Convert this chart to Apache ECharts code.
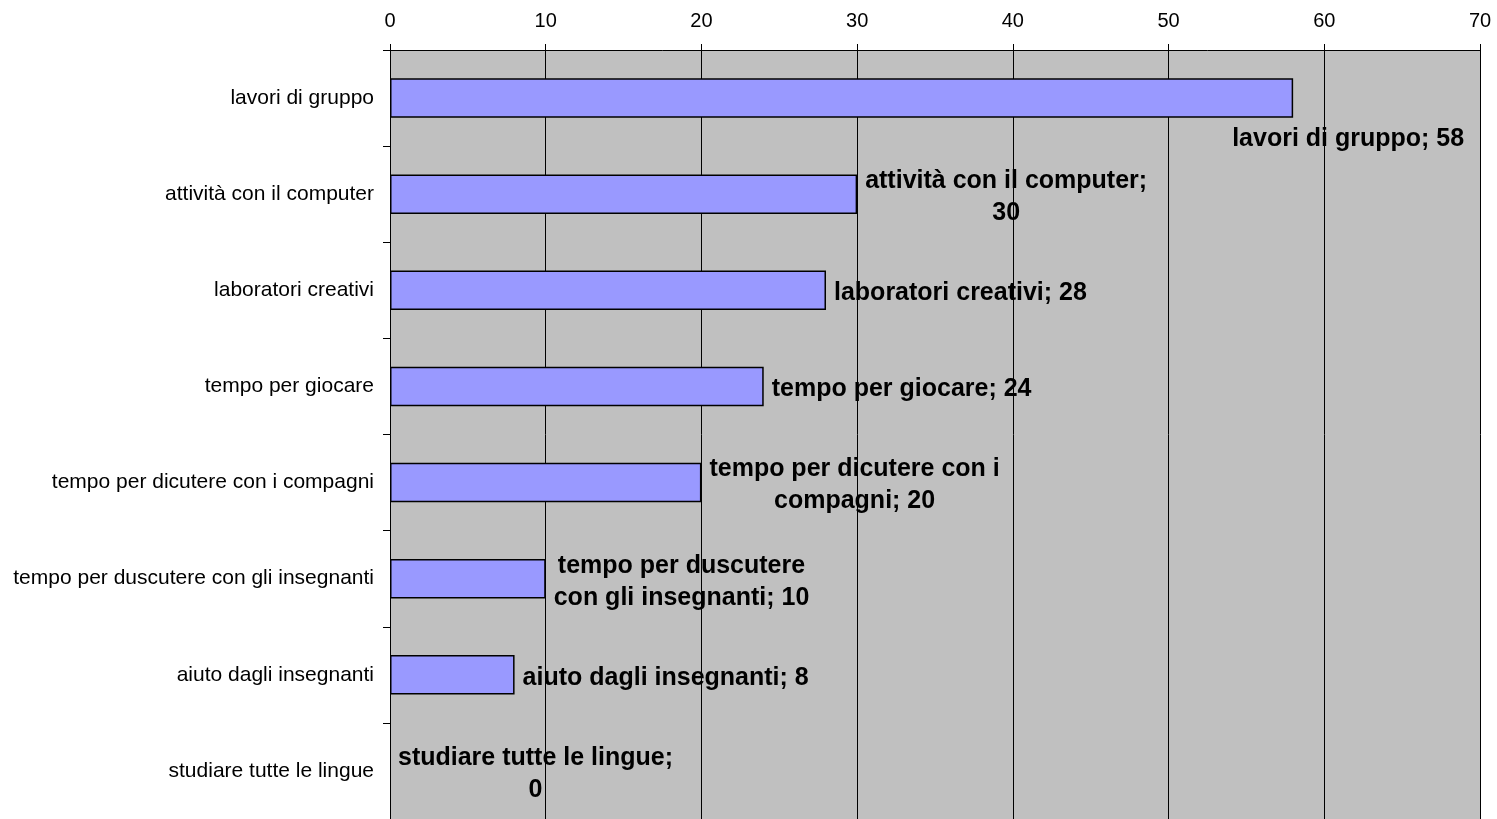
<!DOCTYPE html>
<html><head><meta charset="utf-8">
<script src="https://cdn.jsdelivr.net/npm/echarts@6/dist/echarts.min.js"></script>
<style>html,body{margin:0;padding:0;background:#fff}#c{width:1497px;height:819px}</style>
</head><body><div id="c"></div>
<script>
var categories = ['lavori di gruppo','attività con il computer','laboratori creativi','tempo per giocare','tempo per dicutere con i compagni','tempo per duscutere con gli insegnanti','aiuto dagli insegnanti','studiare tutte le lingue'];
var values = [58,30,28,24,20,10,8,0];
var xTicks = [0,10,20,30,40,50,60,70];
// label text line breaks (text formatting only)
var labelBreaks = {
  'attività con il computer': ['attività con il computer;', null],
  'tempo per dicutere con i compagni': ['tempo per dicutere con i', 'compagni;'],
  'tempo per duscutere con gli insegnanti': ['tempo per duscutere', 'con gli insegnanti;'],
  'studiare tutte le lingue': ['studiare tutte le lingue;', null]
};

var FONT = '"Liberation Sans", Arial, sans-serif';
var LFS = 25;
var DY = 3;
var cv = document.createElement('canvas').getContext('2d');
cv.font = 'bold ' + LFS + 'px ' + FONT;

var data = values.map(function(v, i){
  var name = categories[i];
  var item = {value: v, name: name};
  var br = labelBreaks[name];
  if (br) {
    var l1 = br[0], l2 = br[1] ? br[1] + ' ' + v : String(v);
    var w = Math.max(cv.measureText(l1).width, cv.measureText(l2).width);
    item.label = {formatter: l1 + '\n' + l2, align: 'center', offset: [w/2, DY]};
  } else if (i === 0) {
    item.label = {offset: [-69, 38 + DY]};
  }
  if (v === 0) item.itemStyle = {borderWidth: 0};
  return item;
});

var chart = echarts.init(document.getElementById('c'), null, {renderer: 'canvas'});
chart.setOption({
  animation: false,
  grid: {left: 390, right: 17, top: 50, bottom: -3, show: true, backgroundColor: '#C0C0C0', borderWidth: 0},
  xAxis: {
    type: 'value', position: 'top', min: xTicks[0], max: xTicks[xTicks.length-1], interval: xTicks[1]-xTicks[0],
    axisLine: {show: true, lineStyle: {color: '#000', width: 1}},
    axisTick: {show: true, length: 6, lineStyle: {color: '#000'}},
    axisLabel: {fontSize: 20, color: '#000', fontFamily: FONT, margin: 19},
    splitLine: {show: true, lineStyle: {color: '#000', width: 1}}
  },
  yAxis: {
    type: 'category', inverse: true, data: categories,
    axisLine: {show: true, lineStyle: {color: '#000', width: 1}},
    axisTick: {show: true, length: 7, lineStyle: {color: '#000'}},
    axisLabel: {fontSize: 21, color: '#000', fontFamily: FONT, margin: 16}
  },
  series: [{
    type: 'bar', data: data, barCategoryGap: '59%',
    itemStyle: {color: '#9999FF', borderColor: '#000', borderWidth: 1.5},
    label: {
      show: true, position: 'right', distance: 8, offset: [0, DY], color: '#000', fontWeight: 'bold',
      fontSize: LFS, fontFamily: FONT, lineHeight: 32,
      formatter: function(p){ return p.name + '; ' + p.value; }
    }
  }]
});
</script></body></html>
